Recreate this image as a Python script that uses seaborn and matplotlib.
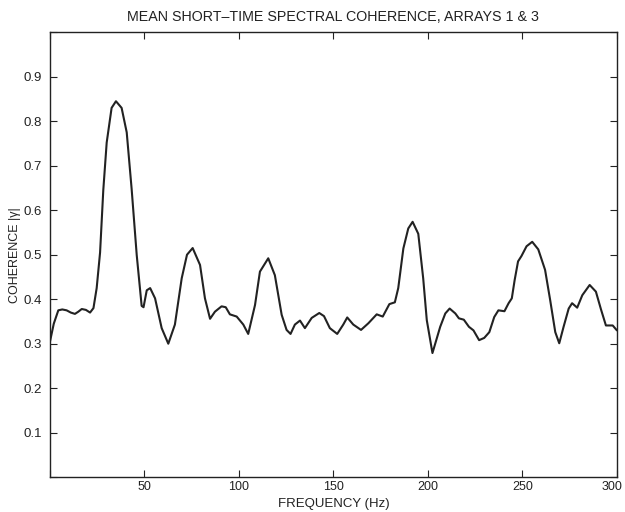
"""Mean short-time spectral coherence between arrays 1 and 3."""

import matplotlib
matplotlib.use("Agg")
import matplotlib.pyplot as plt
import matplotlib.transforms as mtransforms
import pandas as pd
import seaborn as sns

# values
freq_hz = [
    0, 2, 4.4, 6.5, 8.8, 11, 13.2, 15, 16.8, 19, 21.2, 23, 24.7, 26.5, 28.2,
    30, 32.6, 34.9, 37.9, 40.6, 43.2, 45.9, 48.5, 49.5, 51.2, 53, 55.6, 59.1,
    62.6, 66.1, 69.7, 72.5, 75.5, 79.4, 82, 84.7, 87.3, 90.8, 93, 95.2, 98.8,
    102.3, 104.9, 108.5, 111.1, 115.5, 119, 122.6, 125.2, 127.3, 129.6, 132.3,
    134.9, 138.5, 142.5, 145, 148.1, 152, 155.2, 157.3, 160.5, 164.6, 168.5,
    172.9, 176.1, 179.6, 182.5, 184.3, 187, 189.6, 191.9, 194.9, 197.5, 199.4,
    202.4, 206.5, 209.2, 211.5, 214.5, 216.4, 219, 221.7, 224.1, 227.1, 229.8,
    232.5, 235.1, 237.3, 240.5, 242.7, 244.4, 245.9, 247.7, 249.5, 252.2,
    255.2, 258.4, 262, 264.7, 267.4, 269.5, 271.8, 274.5, 276.3, 279, 281.7,
    285.6, 288.9, 291.6, 294.2, 297.8, 300,
]
coherence = [
    0.305, 0.345, 0.375, 0.377, 0.375, 0.370, 0.367, 0.372, 0.378, 0.376,
    0.370, 0.380, 0.425, 0.505, 0.645, 0.752, 0.830, 0.845, 0.830, 0.775,
    0.648, 0.499, 0.385, 0.382, 0.420, 0.425, 0.402, 0.335, 0.300, 0.343,
    0.447, 0.500, 0.515, 0.477, 0.402, 0.356, 0.372, 0.384, 0.382, 0.366,
    0.361, 0.343, 0.322, 0.387, 0.462, 0.492, 0.454, 0.365, 0.331, 0.322,
    0.343, 0.352, 0.335, 0.358, 0.369, 0.362, 0.335, 0.322, 0.343, 0.359,
    0.343, 0.331, 0.346, 0.366, 0.361, 0.389, 0.393, 0.425, 0.514, 0.559,
    0.574, 0.547, 0.447, 0.353, 0.279, 0.338, 0.368, 0.379, 0.368, 0.357,
    0.354, 0.338, 0.330, 0.308, 0.313, 0.326, 0.360, 0.375, 0.373, 0.391,
    0.402, 0.443, 0.485, 0.497, 0.519, 0.529, 0.512, 0.466, 0.398, 0.326,
    0.301, 0.338, 0.379, 0.391, 0.381, 0.409, 0.432, 0.417, 0.377, 0.341,
    0.341, 0.330,
]
x_ticks = [0, 50, 100, 150, 200, 250, 300]
x_labels = ["", "50", "100", "150", "200", "250", "300"]
y_ticks = [0, 0.1, 0.2, 0.3, 0.4, 0.5, 0.6, 0.7, 0.8, 0.9, 1.0]
y_labels = ["", "0.1", "0.2", "0.3", "0.4", "0.5", "0.6", "0.7", "0.8", "0.9", ""]

df = pd.DataFrame({"freq": freq_hz, "coh": coherence})

sns.set_style("ticks")
plt.rcParams["font.family"] = ["Liberation Sans", "DejaVu Sans"]

fig = plt.figure(figsize=(6.25, 5.12), dpi=100)
ax = fig.add_axes([0.08, 0.068, 0.907, 0.869])

sns.lineplot(data=df, x="freq", y="coh", color="#222222", linewidth=1.5,
             ax=ax, solid_joinstyle="round")

ax.set_xlim(0, 300)
ax.set_ylim(0, 1)
ax.set_xticks(x_ticks)
ax.set_xticklabels(x_labels)
ax.set_yticks(y_ticks)
ax.set_yticklabels(y_labels)
ax.tick_params(direction="in", top=True, right=True, length=5, width=0.8,
               labelsize=9.5, colors="#222222")
ax.tick_params(axis="y", pad=6)
ax.tick_params(axis="x", pad=3, labelsize=9)
for side in ax.spines.values():
    side.set_visible(True)
    side.set_linewidth(1.0)
    side.set_color("#222222")

# keep the last x label inside the canvas
last = ax.get_xticklabels()[-1]
last.set_transform(last.get_transform() +
                   mtransforms.ScaledTranslation(-5 / 100, 0, fig.dpi_scale_trans))

ax.set_title("MEAN SHORT\u2013TIME SPECTRAL COHERENCE, ARRAYS 1 & 3",
             fontsize=10.3, color="#222222", pad=8)
ax.set_xlabel("FREQUENCY (Hz)", fontsize=9.5, color="#222222")
ax.set_ylabel("COHERENCE |\u03b3|", fontsize=9, color="#222222")
ax.xaxis.set_label_coords(0.5, -0.046)
ax.yaxis.set_label_coords(-0.052, 0.5)

fig.savefig("out.png", dpi=100)
plt.close(fig)
